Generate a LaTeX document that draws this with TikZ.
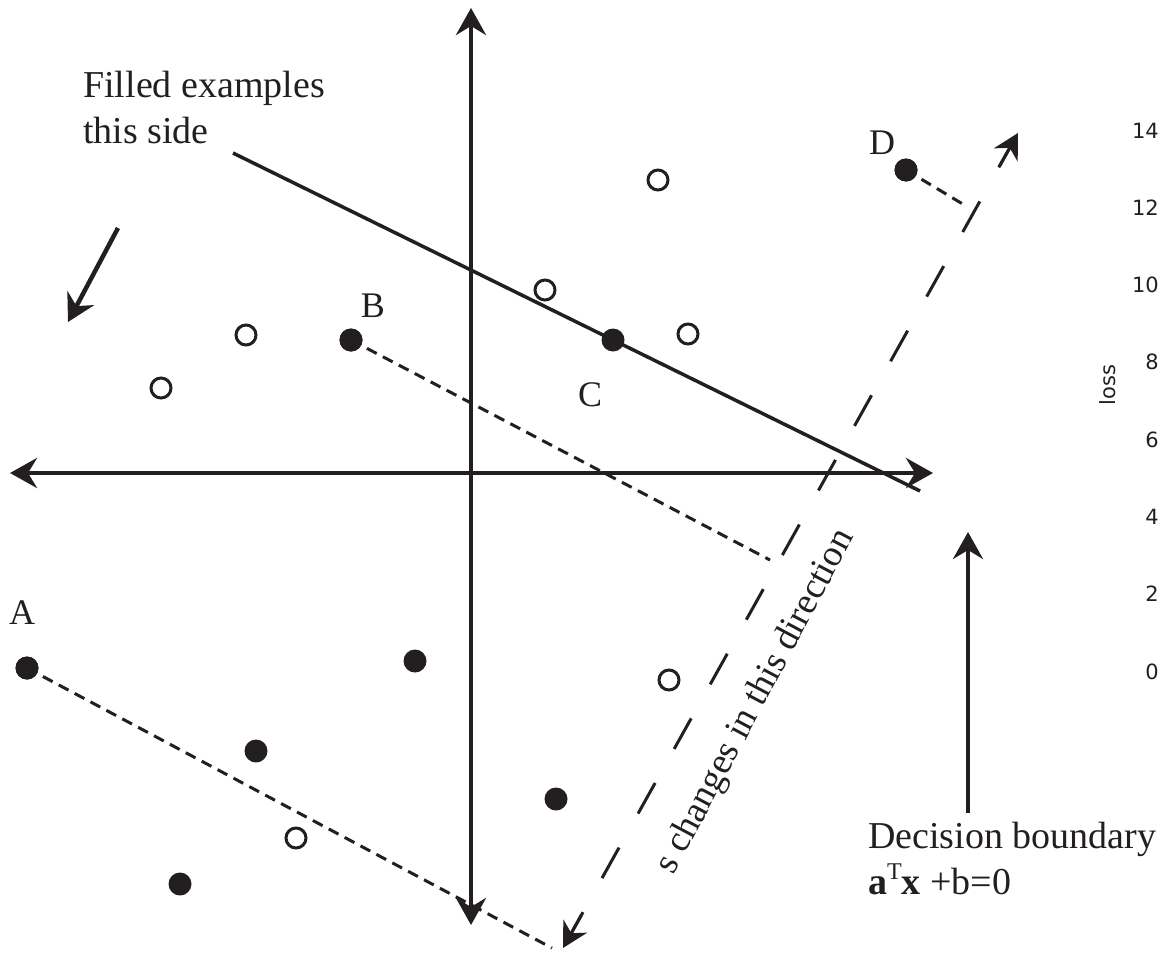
\documentclass[tikz,border=0pt]{standalone}
\usepackage{fontspec}
\setmainfont{Liberation Serif}
\newfontfamily\dejavu{DejaVu Sans}
\usetikzlibrary{arrows.meta,calc}
\definecolor{ink}{RGB}{35,31,32}
\begin{document}
\begin{tikzpicture}[x=1pt,y=-1pt,
  bigtip/.tip={Stealth[length=27pt,width=30pt,inset=9pt]},
  smalltip/.tip={Stealth[length=25pt,width=27pt,inset=8pt]},
  axisline/.style={draw=ink,line width=4.5pt,bigtip-bigtip},
  pointer/.style={draw=ink,line width=4.5pt,-bigtip},
  bline/.style={draw=ink,line width=3.5pt},
  longdash/.style={draw=ink,line width=3pt,dash pattern=on 35pt off 39pt,dash phase=68pt},
  tipline/.style={draw=ink,line width=3pt,-smalltip},
  dotline/.style={draw=ink,line width=3pt,dash pattern=on 11pt off 7pt},
  filledpt/.style={circle,fill=ink,minimum size=23pt,inner sep=0pt},
  openpt/.style={circle,draw=ink,fill=white,line width=3pt,minimum size=20pt,inner sep=0pt},
  ptlabel/.style={text=ink,inner sep=0pt,font=\fontsize{36}{40}\selectfont},
  bigtext/.style={text=ink,inner sep=0pt,align=left,font=\fontsize{38}{46}\selectfont},
  losslab/.style={text=ink,inner sep=0pt,anchor=east,font=\dejavu\fontsize{21}{24}\selectfont}
]
\useasboundingbox (0,0) rectangle (1164,953);

% coordinates
\coordinate (xl) at (10,473);
\coordinate (xr) at (933,473);
\coordinate (yt) at (471,8);
\coordinate (yb) at (471,925);
\coordinate (db1) at (233,153);
\coordinate (db2) at (920,491);
\coordinate (s1) at (563,948);
\coordinate (s2) at (1018,133);
\coordinate (Aend) at (552,948);
\coordinate (Bend) at (770,560);
\coordinate (Dend) at (966,206);
\coordinate (fps) at (118,228);
\coordinate (fpe) at (68,322);
\coordinate (dbs) at (968,813);
\coordinate (dbe) at (968,532);

% axes
\draw[axisline] (xl) -- (xr);
\draw[axisline] (yb) -- (yt);

% decision boundary
\draw[bline] (db1) -- (db2);

% direction of s
\draw[longdash] (s1) -- (s2);
\draw[tipline] ($(s1)!38pt!(s2)$) -- (s1);
\draw[tipline] ($(s2)!38pt!(s1)$) -- (s2);

% filled points
\node[filledpt] (A) at (27,668) {};
\node[filledpt] (B) at (351,340) {};
\node[filledpt] (C) at (613,340) {};
\node[filledpt] (D) at (906,170) {};
\node[filledpt] (f1) at (415,661) {};
\node[filledpt] (f2) at (256,751) {};
\node[filledpt] (f3) at (556,799) {};
\node[filledpt] (f4) at (180,884) {};

% projections onto the s direction
\draw[dotline] (A.center) -- (Aend);
\draw[dotline] (B.center) -- (Bend);
\draw[dotline] (D.center) -- (Dend);
\node[filledpt] at (A) {};
\node[filledpt] at (B) {};
\node[filledpt] at (D) {};

% open points
\node[openpt] (o1) at (161,388) {};
\node[openpt] (o2) at (246,335) {};
\node[openpt] (o3) at (545,290) {};
\node[openpt] (o4) at (658,180) {};
\node[openpt] (o5) at (688,334) {};
\node[openpt] (o6) at (669,680) {};
\node[openpt] (o7) at (296,838) {};

% point labels
\node[ptlabel] (lA) at (22,613) {A};
\node[ptlabel] (lB) at (373,306) {B};
\node[ptlabel] (lC) at (590,395) {C};
\node[ptlabel] (lD) at (882,143) {D};

% texts
\node[bigtext,anchor=north west] (filled) at (83,71) {Filled examples\\this side};
\draw[pointer] (fps) -- (fpe);

\node[bigtext,anchor=north west] (dbtext) at (868,822) {Decision boundary\\\textbf{a}\raisebox{15pt}{\fontsize{24}{24}\selectfont T}\textbf{x} +b=0};
\draw[pointer] (dbs) -- (dbe);

\node[text=ink,inner sep=0pt,rotate=62,font=\fontsize{37}{44}\selectfont] (stext) at (756,702) {s changes in this direction};

% loss axis labels
\foreach \v/\yy in {14/131,12/208,10/285,8/362,6/440,4/517,2/594,0/672}{
  \node[losslab] (loss\v) at (1159,\yy) {\v};
}
\node[text=ink,inner sep=0pt,rotate=90,font=\dejavu\fontsize{21}{24}\selectfont] (losstitle) at (1108,385) {loss};
\end{tikzpicture}
\end{document}
